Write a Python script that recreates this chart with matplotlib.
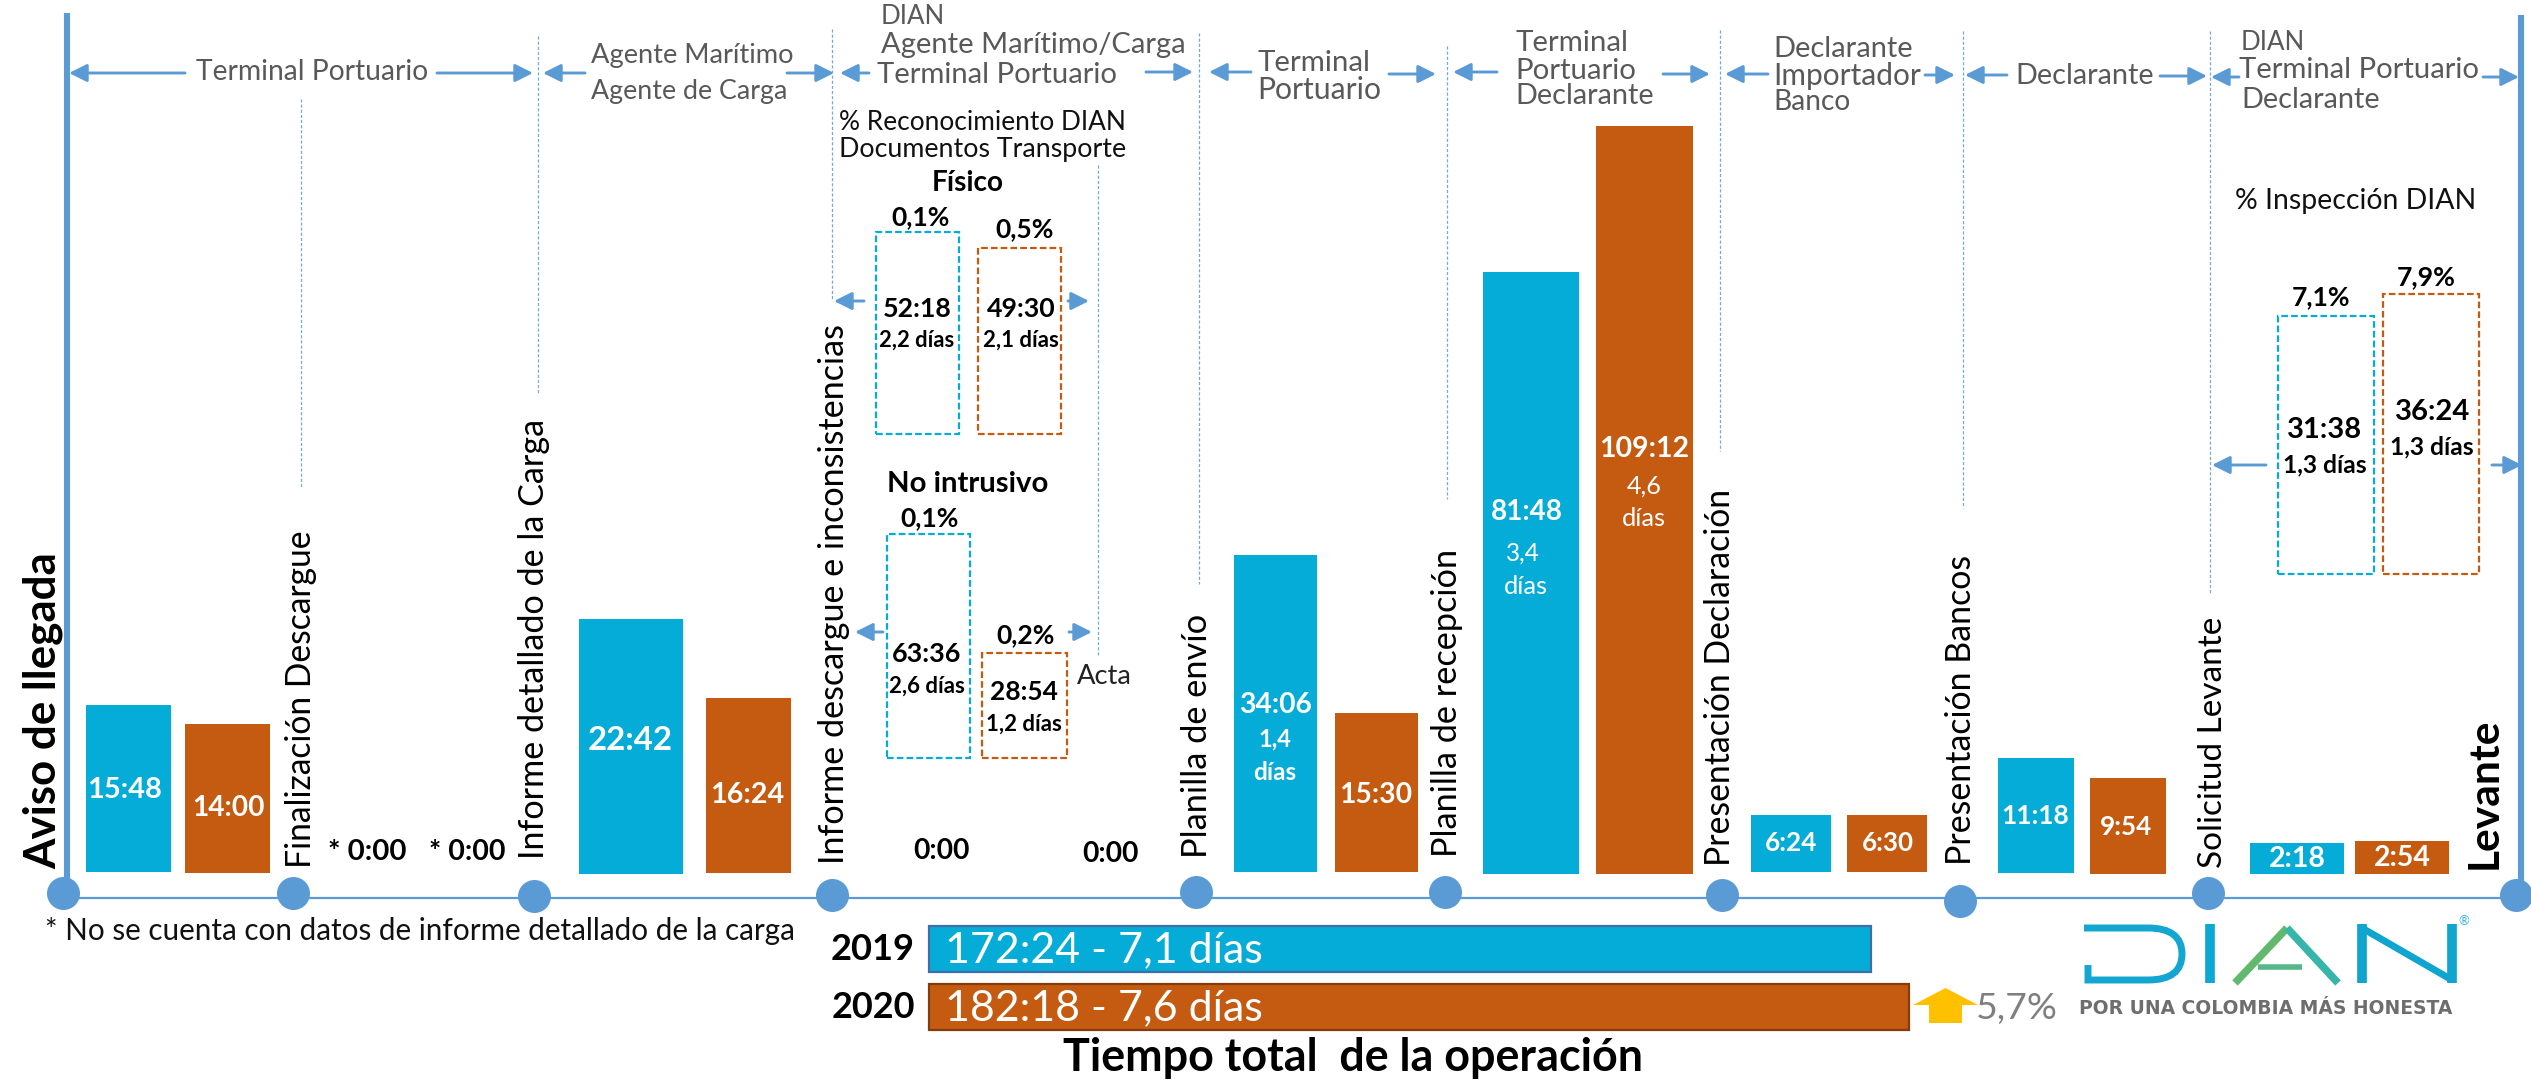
import matplotlib
matplotlib.use("Agg")
import matplotlib.pyplot as plt
from matplotlib.patches import Polygon, PathPatch
from matplotlib.path import Path

plt.rcParams['font.family'] = ['Lato', 'DejaVu Sans']

# ---------- data ----------
bar_labels_2019 = ["15:48", "22:42", "34:06", "81:48", "6:24", "11:18", "2:18"]
bar_labels_2020 = ["14:00", "16:24", "15:30", "109:12", "6:30", "9:54", "2:54"]
hours_2019 = [15.8, 22.7, 34.1, 81.8, 6.4, 11.3, 2.3]
hours_2020 = [14.0, 16.4, 15.5, 109.2, 6.5, 9.9, 2.9]
box_labels = ["52:18", "49:30", "63:36", "28:54", "31:38", "36:24"]
box_days = ["2,2 días", "2,1 días", "2,6 días", "1,2 días", "1,3 días", "1,3 días"]
box_hours = [52.3, 49.5, 63.6, 28.9, 31.63, 36.4]
box_pct = ["0,1%", "0,5%", "0,1%", "0,2%", "7,1%", "7,9%"]
total_years = ["2019", "2020"]
total_hours = [172.4, 182.3]
total_labels = ["172:24 - 7,1 días", "182:18 - 7,6 días"]
milestones = ["Aviso de llegada", "Finalización Descargue", "Informe detallado de la Carga",
              "Informe descargue e inconsistencias", "Planilla de envío", "Planilla de recepción",
              "Presentación Declaración", "Presentación Bancos", "Solicitud Levante", "Levante"]

# ---------- layout (pixel frame of the slide) ----------
W, H = 2531, 1081
BLUE, ORANGE, LINE, GRAY = "#05ACD8", "#C55A11", "#5B9BD5", "#595959"

bar_x0 = [86, 579, 1234, 1483, 1751, 1998, 2250]
bar_x1 = [171, 683, 1317, 1579, 1831, 2074, 2344]
bar_base = [872, 874, 872, 874, 872, 873, 874]
bar_scale = [10.57, 11.23, 9.30, 7.36, 8.9, 10.18, 13.48]
bar2_x0 = [185, 706, 1335, 1596, 1847, 2090, 2355]
bar2_x1 = [270, 791, 1418, 1693, 1927, 2166, 2449]
bar2_base = [873, 873, 872, 874, 872, 874, 874]
bar2_scale = [10.64, 10.67, 10.26, 6.85, 8.77, 9.70, 11.38]

fig = plt.figure(figsize=(W / 100, H / 100), dpi=100, facecolor="white")
ax = fig.add_axes([0, 0, 1, 1])
ax.set_xlim(0, W)
ax.set_ylim(H, 0)
ax.axis("off")
renderer = fig.canvas.get_renderer()


def T(x, y, s, fit=None, color="black", bold=False, ha="center", va="center", rot=0, z=6, **kw):
    """Place a text; `fit` is the length in pixels it spans in the reference."""
    t = ax.text(x, y, s, fontsize=20, color=color, fontweight="bold" if bold else "normal",
                ha=ha, va=va, rotation=rot, zorder=z, **kw)
    bb = t.get_window_extent(renderer)
    span = bb.height if rot == 90 else bb.width
    t.set_fontsize(20 * fit / span)
    return t


def arrow(x0, y0, x1, y1):
    ax.annotate("", xy=(x1, y1), xytext=(x0, y0), zorder=5,
                arrowprops=dict(arrowstyle="-|>,head_length=0.9,head_width=0.45", color=LINE,
                                lw=2.1, shrinkA=0, shrinkB=0, mutation_scale=12))


# timeline
ax.plot([63, 2516], [898, 898], color=LINE, lw=1.6, zorder=2)
ax.plot([67, 67], [13, 885], color=LINE, lw=4.4, zorder=2, solid_capstyle="butt")
ax.plot([2521, 2521], [15, 885], color=LINE, lw=4.4, zorder=2, solid_capstyle="butt")
node_x = [63, 293, 534, 832, 1196, 1445, 1722, 1960, 2208, 2516]
node_y = [893, 893, 896, 895, 892, 892, 895, 901, 893, 895]
ax.scatter(node_x, node_y, s=(33 * 0.72) ** 2, color=LINE, zorder=3, linewidths=0)

# thin dotted separators
sep_x = [301, 538, 832, 1098, 1199, 1447, 1720, 1963, 2210]
sep_top = [99, 36, 29, 165, 33, 46, 30, 31, 31]
sep_bot = [488, 394, 300, 655, 584, 499, 451, 508, 593]
for x, a, b in zip(sep_x, sep_top, sep_bot):
    ax.plot([x, x], [a, b], color=LINE, lw=0.9, ls=(0, (2.5, 1.6)), alpha=0.85, zorder=1)

# bars
for i in range(len(hours_2019)):
    ax.bar((bar_x0[i] + bar_x1[i]) / 2, -hours_2019[i] * bar_scale[i], bar_x1[i] - bar_x0[i],
           bottom=bar_base[i], color=BLUE, zorder=4)
    ax.bar((bar2_x0[i] + bar2_x1[i]) / 2, -hours_2020[i] * bar2_scale[i], bar2_x1[i] - bar2_x0[i],
           bottom=bar2_base[i], color=ORANGE, zorder=4)

lab1_x = [125, 630, 1275, 1527, 1791, 2035, 2297]
lab1_y = [790, 740, 705, 512, 843, 816, 859]
lab1_w = [75, 85, 73, 72, 52, 68, 57]
lab2_x = [228, 747, 1376, 1644, 1888, 2126, 2402]
lab2_y = [808, 795, 795, 449, 843, 827, 858]
lab2_w = [73, 74, 73, 90, 52, 52, 57]
for i in range(len(hours_2019)):
    T(lab1_x[i], lab1_y[i], bar_labels_2019[i], lab1_w[i], "white", True)
    T(lab2_x[i], lab2_y[i], bar_labels_2020[i], lab2_w[i], "white", True)
T(1275, 739, "1,4", 33, "white", True)
T(1275, 772, "días", 43, "white", True)
T(1523, 553, "3,4", 34, "white")
T(1526, 587, "días", 44, "white")
T(1644, 486, "4,6", 35, "white")
T(1644, 519, "días", 44, "white")

# dashed boxes
box_x0 = [876, 978, 887, 982, 2278, 2383]
box_x1 = [959, 1061, 970, 1067, 2374, 2479]
box_base = [434, 434, 758, 758, 574, 574]
box_scale = [3.86, 3.76, 3.52, 3.63, 8.16, 7.69]
box_col = [BLUE, ORANGE] * 3
box_txt_x = [917, 1021, 927, 1024, 2325, 2432]
box_txt_y = [309, 309, 654, 692, 430, 412]
box_day_y = [340, 340, 686, 724, 465, 447]
box_pct_x = [921, 1025, 930, 1026, 2321, 2426]
box_pct_y = [217, 229, 518, 635, 297, 277]
box_txt_w = [69, 69, 69, 68, 75, 75]
box_day_w = [75, 76, 76, 76, 84, 84]
for i in range(6):
    ax.bar((box_x0[i] + box_x1[i]) / 2, -box_hours[i] * box_scale[i], box_x1[i] - box_x0[i],
           bottom=box_base[i], facecolor="none", edgecolor=box_col[i], lw=1.6,
           ls=(0, (3, 1.4)), zorder=4)
    T(box_txt_x[i], box_txt_y[i], box_labels[i], box_txt_w[i], "black", True)
    T(box_txt_x[i], box_day_y[i], box_days[i], box_day_w[i], "black", True)
    T(box_pct_x[i], box_pct_y[i], box_pct[i], 59, "black", True)

# header arrows
hdr_arrows = [(185, 69, 73), (437, 533, 73), (585, 543, 73), (787, 834, 73), (869, 840, 73),
              (1146, 1193, 72), (1251, 1209, 72), (1389, 1436, 74), (1497, 1453, 72),
              (1663, 1710, 74), (1768, 1725, 74), (1925, 1955, 75), (2007, 1965, 75),
              (2160, 2207, 76), (2239, 2211, 77), (2483, 2519, 77),
              (864, 834, 301), (1068, 1089, 301), (883, 855, 632), (1069, 1092, 632),
              (2266, 2212, 465), (2492, 2522, 465)]
for a, b, y in hdr_arrows:
    arrow(a, y, b, y)

# header text
hdr = [(196, 72, "Terminal Portuario", 233), (591, 56, "Agente Marítimo", 203),
       (591, 91, "Agente de Carga", 196), (881, 17, "DIAN", 64),
       (881, 45, "Agente Marítimo/Carga", 305), (877, 75, "Terminal Portuario", 241),
       (1257, 63, "Terminal", 113), (1257, 90, "Portuario", 124),
       (1515, 43, "Terminal", 113), (1515, 71, "Portuario", 121), (1515, 96, "Declarante", 139),
       (1773, 49, "Declarante", 140), (1773, 76, "Importador", 148), (1773, 102, "Banco", 77),
       (2015, 76, "Declarante", 139), (2241, 43, "DIAN", 64),
       (2239, 70, "Terminal Portuario", 241), (2241, 100, "Declarante", 139)]
for x, y, s, w in hdr:
    T(x, y, s, w, GRAY, ha="left")

T(839, 123, "% Reconocimiento DIAN", 287, "#111111", ha="left")
T(839, 149, "Documentos Transporte", 287, "#111111", ha="left")
T(968, 183, "Físico", 72, "black", True)
T(968, 484, "No intrusivo", 162, "black", True)
T(1077, 676, "Acta", 55, "#222222", ha="left")
T(2356, 201, "% Inspección DIAN", 241, "#111111")
T(941, 851, "0:00", 57, "black", True)
T(1110, 854, "0:00", 57, "black", True)
T(367, 875 - 23, "* 0:00", 79, "black", True)
T(467, 875 - 23, "* 0:00", 77, "black", True)

# rotated milestone labels
m_x = [43, 301, 534, 834, 1197, 1447, 1720, 1961, 2213, 2485]
m_y = [869, 868, 859, 864, 858, 857, 866, 865, 868, 869]
m_len = [317, 338, 441, 542, 245, 309, 378, 310, 252, 151]
m_b = [True, False, False, False, False, False, False, False, False, True]
for i, s in enumerate(milestones):
    T(m_x[i], m_y[i], s, m_len[i], "black", m_b[i], va="bottom", rot=90)

T(45, 931, "* No se cuenta con datos de informe detallado de la carga", 749, "#111111", ha="left")

# totals
tot_y0 = [926, 984]
tot_y1 = [972, 1030]
tot_scale = [5.464, 5.376]
tot_col = [BLUE, ORANGE]
tot_edge = ["#3F6FA8", "#843C0C"]
tot_lab_y = [950, 1008]
for i in range(2):
    ax.barh((tot_y0[i] + tot_y1[i]) / 2, total_hours[i] * tot_scale[i], tot_y1[i] - tot_y0[i],
            left=929, color=tot_col[i], edgecolor=tot_edge[i], lw=1.6, zorder=4)
    T(945, tot_lab_y[i], total_labels[i], 318, "white", ha="left")
    T(873, tot_lab_y[i], total_years[i], 84, "black", True)

T(1353, 1058, "Tiempo total  de la operación", 581, "black", True)

# yellow up arrow
ax.add_patch(Polygon([(1913, 1005), (1945.5, 988), (1978, 1005), (1962, 1005), (1962, 1023),
                      (1929, 1023), (1929, 1005)], closed=True, color="#FFC000", zorder=4, lw=0))
T(1976, 1009, "5,7%", 82, "#7F7F7F", ha="left")

# DIAN logo mark
d_path = Path([(2084, 928), (2148, 928), (2182, 928), (2182, 954), (2182, 980), (2148, 980),
               (2088, 980), (2088, 965)],
              [Path.MOVETO, Path.LINETO, Path.CURVE3, Path.CURVE3, Path.CURVE3, Path.CURVE3,
               Path.LINETO, Path.LINETO])
ax.add_patch(PathPatch(d_path, facecolor="none", edgecolor="#12A6D0", lw=5, zorder=4,
                       capstyle="butt", joinstyle="miter"))
ax.plot([2210, 2210], [924, 983], color="#0FA8D2", lw=7, solid_capstyle="butt", zorder=4)
ax.plot([2235, 2287], [983, 928], color="#62B96E", lw=5.5, solid_capstyle="butt", zorder=4)
ax.plot([2287, 2338], [928, 983], color="#36B5A8", lw=5.5, solid_capstyle="butt", zorder=4)
ax.plot([2258, 2302], [967, 967], color="#55B888", lw=4, solid_capstyle="butt", zorder=4)
ax.plot([2362, 2362], [924, 983], color="#0FA5CF", lw=7, solid_capstyle="butt", zorder=4)
ax.plot([2452, 2452], [924, 983], color="#0FA5CF", lw=7, solid_capstyle="butt", zorder=4)
ax.plot([2362, 2452], [928, 980], color="#0FA5CF", lw=5, solid_capstyle="butt", zorder=4)
T(2464, 921, "®", 11, "#30B8DC")
T(2266, 1009, "POR UNA COLOMBIA MÁS HONESTA", 373, "#6E6E6E", True, family=["DejaVu Sans"])

fig.savefig("out.png", dpi=100, facecolor="white")
